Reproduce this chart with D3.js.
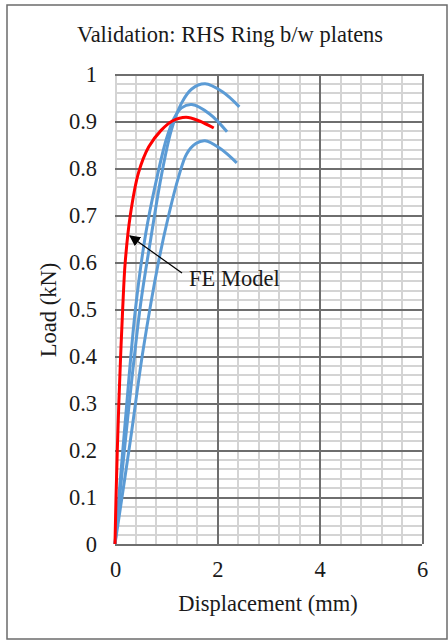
<!DOCTYPE html>
<html lang="en">
<head>
<meta charset="utf-8">
<script src="https://d3js.org/d3.v7.min.js"></script>
<style>
	body { margin: 0; background: #fff; }
	.grid line { shape-rendering: crispEdges; }
	.grid path { display: none; }
</style>
</head>
<body>
<script>
var width = 448, height = 641;
var serif = "Liberation Serif";
var fontSize = "22.5px";

var title = "Validation: RHS Ring b/w platens";
var xLabel = "Displacement (mm)";
var yLabel = "Load (kN)";
var xTicks = [0, 2, 4, 6];
var yTicks = [0, 0.1, 0.2, 0.3, 0.4, 0.5, 0.6, 0.7, 0.8, 0.9, 1];

// FE model (red)
var feDisp = [0, 0.02, 0.045, 0.075, 0.11, 0.15, 0.2, 0.3, 0.46, 0.66, 0.9, 1.12, 1.39, 1.65, 1.93];
var feLoad = [0, 0.1, 0.2, 0.3, 0.4, 0.5, 0.6, 0.7, 0.79, 0.845, 0.88, 0.9, 0.908, 0.9, 0.885];

// tests (blue)
var t1Disp = [0, 0.2, 0.4, 0.6, 0.8, 1.0, 1.15, 1.3, 1.5, 1.85, 2.19];
var t1Load = [0, 0.26, 0.5, 0.66, 0.77, 0.86, 0.905, 0.928, 0.935, 0.915, 0.877];
var t2Disp = [0, 0.25, 0.5, 0.7, 0.9, 1.1, 1.3, 1.5, 1.76, 2.1, 2.43];
var t2Load = [0, 0.27, 0.51, 0.65, 0.78, 0.88, 0.938, 0.968, 0.979, 0.962, 0.93];
var t3Disp = [0, 0.3, 0.55, 0.85, 1.05, 1.24, 1.4, 1.58, 1.76, 2.05, 2.38];
var t3Load = [0, 0.22, 0.413, 0.6, 0.7, 0.78, 0.83, 0.852, 0.858, 0.842, 0.811];

var svg = d3.select("body").append("svg")
	.attr("width", width)
	.attr("height", height);

// outer frame
svg.append("rect")
	.attr("x", 7).attr("y", 5)
	.attr("width", 440).attr("height", 634)
	.attr("fill", "#fff")
	.attr("stroke", "#6b6b6b")
	.attr("stroke-width", 1.5);

function label(sel) {
	return sel.style("font-family", serif).style("font-size", fontSize).attr("fill", "#1a1a1a");
}

svg.append("text")
	.attr("x", 230).attr("y", 42)
	.attr("text-anchor", "middle")
	.call(label)
	.text(title);

var x = d3.scaleLinear().domain([0, 6]).range([115, 422]);
var y = d3.scaleLinear().domain([0, 1]).range([544, 74]);

var xMinor = d3.range(0, 16).map(function(i) { return +(i * 0.4).toFixed(2); });
var yMinor = d3.range(0, 51).map(function(i) { return +(i * 0.02).toFixed(2); });

// minor grid
svg.append("g").attr("class", "grid")
	.attr("transform", "translate(0," + y(0) + ")")
	.call(d3.axisBottom(x).tickValues(xMinor).tickSize(y(1) - y(0)).tickFormat(""))
	.selectAll("line").attr("stroke", "#d4d4d4").attr("stroke-width", 2);
svg.append("g").attr("class", "grid")
	.attr("transform", "translate(" + x(0) + ",0)")
	.call(d3.axisLeft(y).tickValues(yMinor).tickSize(x(0) - x(6)).tickFormat(""))
	.selectAll("line").attr("stroke", "#d4d4d4").attr("stroke-width", 2);

// major grid
svg.append("g").attr("class", "grid")
	.attr("transform", "translate(0," + y(0) + ")")
	.call(d3.axisBottom(x).tickValues(xTicks.slice(1)).tickSize(y(1) - y(0)).tickFormat(""))
	.selectAll("line").attr("stroke", "#6e6e6e").attr("stroke-width", 2);
svg.append("g").attr("class", "grid")
	.attr("transform", "translate(" + x(0) + ",0)")
	.call(d3.axisLeft(y).tickValues(yTicks).tickSize(x(0) - x(6)).tickFormat(""))
	.selectAll("line").attr("stroke", "#6e6e6e").attr("stroke-width", 2);

// tick labels
var xAxis = svg.append("g")
	.attr("transform", "translate(0," + y(0) + ")")
	.call(d3.axisBottom(x).tickValues(xTicks).tickSize(0).tickPadding(17).tickFormat(d3.format("d")));
xAxis.select(".domain").remove();
xAxis.selectAll("text").call(label);

var yAxis = svg.append("g")
	.attr("transform", "translate(" + x(0) + ",0)")
	.call(d3.axisLeft(y).tickValues(yTicks).tickSize(0).tickPadding(18).tickFormat(function(d) { return String(d); }));
yAxis.select(".domain").remove();
yAxis.selectAll("text").call(label);

svg.append("text")
	.attr("x", 268).attr("y", 611)
	.attr("text-anchor", "middle")
	.call(label)
	.text(xLabel);

svg.append("text")
	.attr("transform", "translate(56,310) rotate(-90)")
	.attr("text-anchor", "middle")
	.call(label)
	.text(yLabel);

// curves
var line = d3.line()
	.x(function(d) { return x(d[0]); })
	.y(function(d) { return y(d[1]); })
	.curve(d3.curveCatmullRom.alpha(0.5));

function pairs(a, b) { return a.map(function(v, i) { return [v, b[i]]; }); }

[[t3Disp, t3Load], [t1Disp, t1Load], [t2Disp, t2Load]].forEach(function(s) {
	svg.append("path")
		.attr("d", line(pairs(s[0], s[1])))
		.attr("fill", "none")
		.attr("stroke", "#5b9bd5")
		.attr("stroke-width", 3);
});

svg.append("path")
	.attr("d", line(pairs(feDisp, feLoad)))
	.attr("fill", "none")
	.attr("stroke", "#ff0000")
	.attr("stroke-width", 3);

// annotation
svg.append("defs").append("marker")
	.attr("id", "arrow")
	.attr("viewBox", "0 0 10 10")
	.attr("refX", 9).attr("refY", 5)
	.attr("markerWidth", 11).attr("markerHeight", 11)
	.attr("markerUnits", "userSpaceOnUse")
	.attr("orient", "auto")
	.append("path")
	.attr("d", "M0,0L10,5L0,10z")
	.attr("fill", "#000");

svg.append("line")
	.attr("x1", 182).attr("y1", 273)
	.attr("x2", 130).attr("y2", 236)
	.attr("stroke", "#000")
	.attr("stroke-width", 1.2)
	.attr("marker-end", "url(#arrow)");

svg.append("text")
	.attr("x", 189).attr("y", 286)
	.call(label)
	.text("FE Model");
</script>
</body>
</html>
